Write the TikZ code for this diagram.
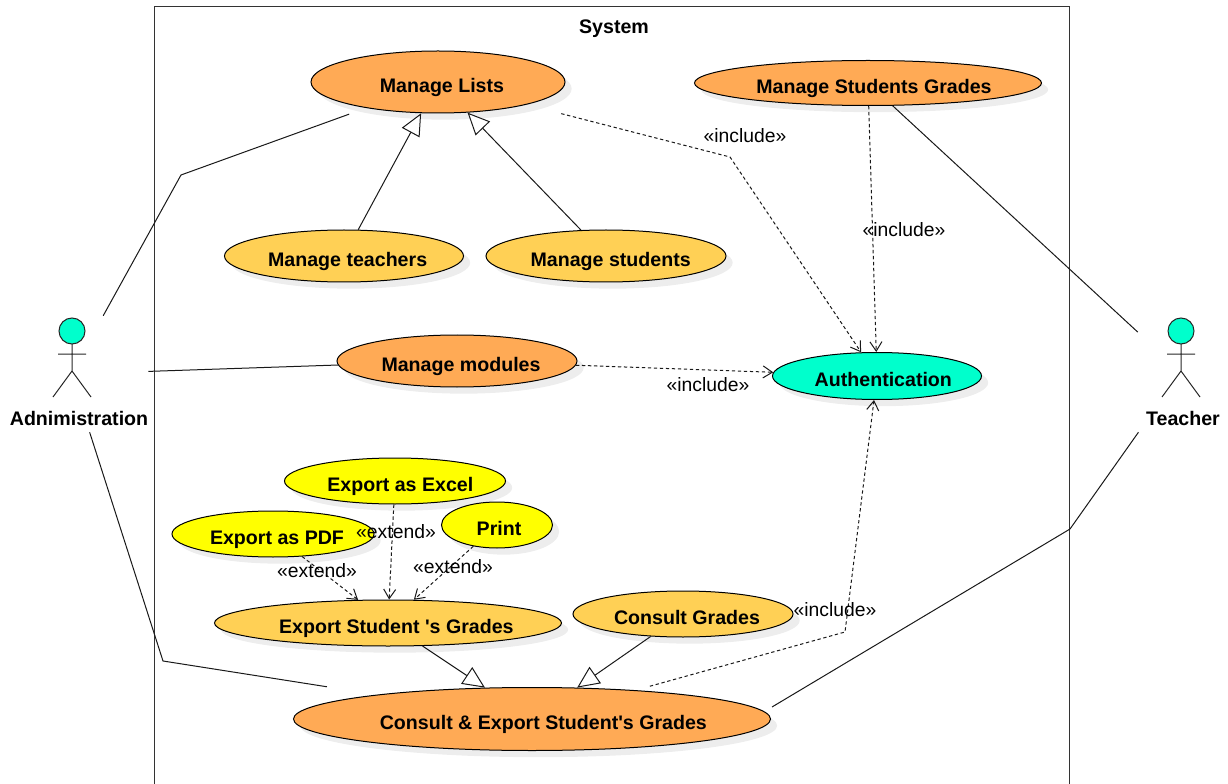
\documentclass[tikz,border=0pt]{standalone}
\usepackage{fontspec}
\setmainfont{Liberation Sans}
\usetikzlibrary{shapes.geometric,arrows.meta,shadows}
\definecolor{ucorange}{RGB}{255,170,85}
\definecolor{uclight}{RGB}{255,208,85}
\definecolor{ucyellow}{RGB}{255,255,0}
\definecolor{ucteal}{RGB}{0,255,204}
\newcommand\uct[3]{\raisebox{#2}[0pt][0pt]{\makebox[0pt]{\kern#1\relax #3}}}
\tikzset{
  usecase/.style n args={3}{ellipse,draw=black,line width=.75pt,inner sep=0pt,fill=#3,
    minimum width=#1*0.75pt,minimum height=#2*0.75pt,
    font=\bfseries\fontsize{14.7pt}{17pt}\selectfont,
    drop shadow={shadow xshift=5pt,shadow yshift=-5pt,fill=black!7,draw=none,opacity=1}},
  boldtext/.style={font=\bfseries\fontsize{14.7pt}{17pt}\selectfont,inner sep=0pt},
  stereo/.style={font=\fontsize{14.5pt}{17pt}\selectfont,inner sep=0pt},
  link/.style={line width=.75pt,draw=black!90},
  generalize/.style={link,-{Triangle[open,fill=white,length=16.5pt,width=15pt]}},
  dep/.style={link,dash pattern=on 2.5pt off 2pt,-{Straight Barb[length=7pt,width=9pt]}},
  actorbox/.style n args={2}{rectangle,inner sep=0pt,minimum width=#1*0.75pt,minimum height=#2*0.75pt},
  stickman/.pic={
    \draw[black!85,line width=.75pt,fill=ucteal] (0,-40) circle[radius=9.75pt];
    \draw[black!85,line width=.75pt] (0,-27)--(0,0) (-14,-17)--(14,-17) (-19,26)--(0,0)--(19,26);
  }
}
\begin{document}
\begin{tikzpicture}[x=0.75pt,y=-0.75pt]
\useasboundingbox (0,0) rectangle (1228,784);
% system frame
\coordinate (fbl) at (154,784);
\coordinate (ftl) at (154,7);
\coordinate (ftr) at (1069,7);
\coordinate (fbr) at (1069,784);
\draw[line width=.75pt,draw=black!80] (fbl)--(ftl)--(ftr)--(fbr);
\node[boldtext] (sys) at (614,29) {System};
% actors
\pic at (72,371) {stickman};
\pic at (1181,371) {stickman};
\node[boldtext] (admlabel) at (79,418) {Adnimistration};
\node[boldtext] (tchlabel) at (1183,418) {Teacher};
\node[actorbox={154}{116}] (admin) at (71,374) {};
\node[actorbox={86}{120}] (teacher) at (1181,372) {};
% use cases
\node[usecase={254}{62}{ucorange}] (ml) at (438,82) {\uct{6pt}{-8.2pt}{Manage Lists}};
\node[usecase={347}{45}{ucorange}] (msg) at (868,83) {\uct{9pt}{-8.2pt}{Manage Students Grades}};
\node[usecase={239}{52}{uclight}] (mt) at (344,256) {\uct{5.5pt}{-7.8pt}{Manage teachers}};
\node[usecase={240}{52}{uclight}] (ms) at (606,256) {\uct{7pt}{-7.8pt}{Manage students}};
\node[usecase={240}{52}{ucorange}] (mm) at (457,361) {\uct{6pt}{-8.2pt}{Manage modules}};
\node[usecase={209}{47}{ucteal}] (auth) at (877,376) {\uct{9.5pt}{-7.8pt}{Authentication}};
\node[usecase={221}{46}{ucyellow}] (xls) at (395,481) {\uct{8pt}{-8.2pt}{Export as Excel}};
\node[usecase={202}{46}{ucyellow}] (pdf) at (273,534) {\uct{6pt}{-8.2pt}{Export as PDF}};
\node[usecase={111}{46}{ucyellow}] (prn) at (497,525) {\uct{3pt}{-8.2pt}{Print}};
\node[usecase={347}{46}{uclight}] (esg) at (388,623) {\uct{12.5pt}{-7.8pt}{Export Student \textquotesingle s Grades}};
\node[usecase={220}{46}{uclight}] (cg) at (683,614) {\uct{6pt}{-8.2pt}{Consult Grades}};
\node[usecase={477}{63}{ucorange}] (ce) at (532,719) {\uct{17pt}{-8.2pt}{Consult \& Export Student\textquotesingle s Grades}};
% bends
\coordinate (b1) at (181,175);
\coordinate (b2) at (163,661);
\coordinate (b3) at (1070,529);
\coordinate (b4) at (730,157);
\coordinate (b5) at (845,632);
\coordinate (ceout) at ([shift={(1,-12)}]ce.east);
% associations
\draw[link,shorten >=13.5pt] (admin)--(b1)--(ml);
\draw[link] (admin)--(mm);
\draw[link,shorten >=38pt] (admin)--(b2)--(ce);
\draw[link] (msg)--(teacher);
\draw[link] (ceout)--(b3)--(teacher);
% generalizations
\draw[generalize] (mt)--(ml);
\draw[generalize] (ms)--(ml);
\draw[generalize] (esg)--(ce);
\draw[generalize] (cg)--(ce);
% dependencies
\draw[dep,shorten <=27pt] (ml)--(b4)--(auth);
\draw[dep] (msg)--(auth);
\draw[dep] (mm)--(auth);
\draw[dep,shorten <=11pt] (ce)--(b5)--(auth);
\draw[dep] (xls)--(esg);
\draw[dep] (pdf)--(esg);
\draw[dep] (prn)--(esg);
% stereotypes
\node[stereo] (i1) at (745,136) {«include»};
\node[stereo] (i2) at (904,230) {«include»};
\node[stereo] (i3) at (708,385) {«include»};
\node[stereo] (i4) at (835,610) {«include»};
\node[stereo] (e1) at (396,532) {«extend»};
\node[stereo] (e2) at (317,571) {«extend»};
\node[stereo] (e3) at (453,567) {«extend»};
\end{tikzpicture}
\end{document}
